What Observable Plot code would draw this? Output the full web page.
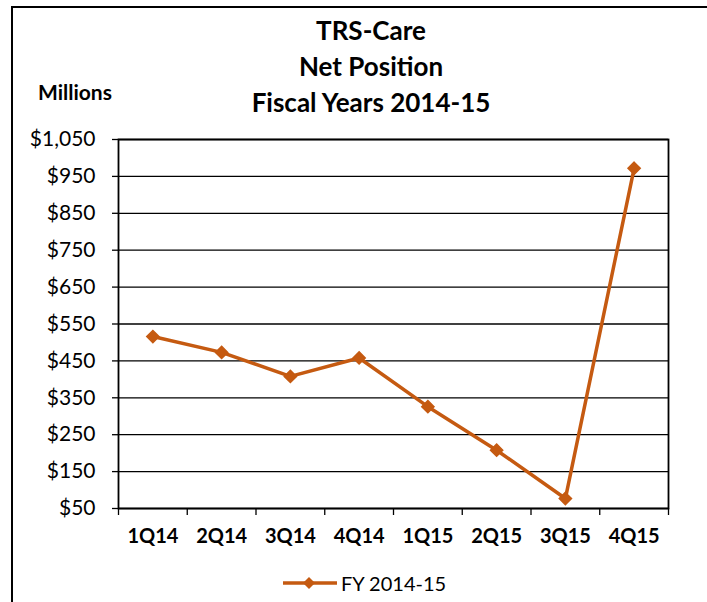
<!DOCTYPE html>
<html>
<head>
<meta charset="utf-8">
<script src="https://cdn.jsdelivr.net/npm/d3@7"></script>
<script src="https://cdn.jsdelivr.net/npm/@observablehq/plot@0.6"></script>
<style>
  html, body { margin: 0; padding: 0; background: #fff; }
  #wrap { position: relative; width: 707px; height: 602px; overflow: hidden; font-family: Lato, "Open Sans", sans-serif; color: #000; }
  .frameL { position: absolute; left: 11px; top: 6px; width: 2px; height: 600px; background: #000; }
  .frameT { position: absolute; left: 11px; top: 6px; width: 700px; height: 2px; background: #000; }
  .title { position: absolute; left: 0; width: 742px; text-align: center; font-weight: bold; font-size: 26px; line-height: 36px; top: 12px; }
  .units { position: absolute; left: 38px; top: 78px; font-weight: bold; font-size: 21px; line-height: 28px; }
  #chart { position: absolute; left: 0; top: 120px; }
  .legend { position: absolute; left: 283px; top: 570px; display: flex; align-items: center; font-size: 20px; line-height: 26px; }
</style>
</head>
<body>
<div id="wrap">
  <div class="frameL"></div>
  <div class="frameT"></div>
  <div class="title" id="title"></div>
  <div class="units" id="units"></div>
  <div id="chart"></div>
  <div class="legend" id="legend"></div>
</div>
<script>
const titleLines = ["TRS-Care", "Net Position", "Fiscal Years 2014-15"];
const unitsLabel = "Millions";
const seriesName = "FY 2014-15";
const quarters = ["1Q14", "2Q14", "3Q14", "4Q14", "1Q15", "2Q15", "3Q15", "4Q15"];
const netPosition = [516, 473, 408, 458, 326, 208, 77, 972];
const yTicks = [50, 150, 250, 350, 450, 550, 650, 750, 850, 950, 1050];
const color = "#c55a11";

document.getElementById("title").innerHTML = titleLines.join("<br>");
document.getElementById("units").textContent = unitsLabel;

const data = quarters.map((q, i) => ({q, i: i + 0.5, v: netPosition[i]}));
const bounds = d3.range(0, quarters.length + 1);
const centers = data.map(d => d.i);

const chart = Plot.plot({
  width: 707,
  height: 482,
  marginTop: 19,
  marginLeft: 118,
  marginRight: 39,
  marginBottom: 94,
  style: {fontFamily: "Lato, 'Open Sans', sans-serif", color: "#000", background: "transparent"},
  x: {domain: [0, quarters.length]},
  y: {domain: [50, 1050]},
  marks: [
    Plot.gridY(yTicks, {stroke: "#000", strokeOpacity: 1, strokeWidth: 1.3}),
    Plot.frame({stroke: "#000", strokeWidth: 1.8}),
    Plot.axisY(yTicks, {tickFormat: d => "$" + d3.format(",")(d), tickSize: 6, tickPadding: 17, fontSize: 21, label: null, strokeWidth: 1.3}),
    Plot.axisX(bounds, {tickFormat: () => "", tickSize: 7, label: null, strokeWidth: 1.3}),
    Plot.axisX(centers, {tickFormat: d => quarters[d - 0.5], tickSize: 0, tickPadding: 20, fontSize: 20, fontWeight: "bold", label: null}),
    Plot.line(data, {x: "i", y: "v", stroke: color, strokeWidth: 3.5}),
    Plot.dot(data, {x: "i", y: "v", symbol: "diamond2", r: 5.5, fill: color, stroke: color})
  ]
});
document.getElementById("chart").appendChild(chart);

// legend
const leg = d3.select("#legend");
const ls = leg.append("svg").attr("width", 55).attr("height", 20);
ls.append("line").attr("x1", 0).attr("x2", 54).attr("y1", 10).attr("y2", 10).attr("stroke", color).attr("stroke-width", 3.5);
ls.append("path").attr("d", d3.symbol(d3.symbolDiamond2, 92)()).attr("transform", "translate(26,10)").attr("fill", color);
leg.append("span").text(seriesName).style("margin-left", "3px");
</script>
</body>
</html>
